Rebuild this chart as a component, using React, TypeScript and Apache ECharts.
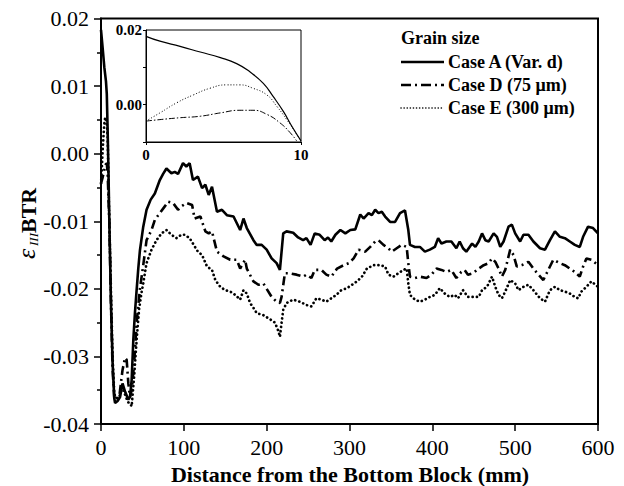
import React, { useEffect, useRef } from "react";
import * as echarts from "echarts";

const FONT = '"Liberation Serif", "Times New Roman", Times, serif';

// Main chart: distance from bottom block (mm) vs strain
const caseA: [number, number][] = [
  [0, 0.0183], [2, 0.0156], [4, 0.0128], [6, 0.0107], [7, 0.0088], [8, 0.0035], [9, -0.0025], [10, -0.0097],
  [12, -0.022], [14, -0.031], [16, -0.0362], [17, -0.0369], [20, -0.0366], [23, -0.036], [26, -0.034],
  [29, -0.0352], [31, -0.0358], [33, -0.0364], [35, -0.036], [37, -0.0335], [39, -0.0276], [41, -0.0235],
  [43, -0.0202], [45, -0.017], [47, -0.0143], [51, -0.0108], [55, -0.0083], [60, -0.0068], [65, -0.0059],
  [71, -0.0039], [75, -0.003], [79, -0.0022], [85, -0.0029], [89, -0.0027], [93, -0.003], [99, -0.0014],
  [103, -0.0019], [107, -0.0014], [111, -0.0039], [117, -0.0034], [122, -0.0051], [126, -0.0046],
  [130, -0.0061], [134, -0.0049], [140, -0.0086], [146, -0.0083], [152, -0.0091], [160, -0.0093],
  [168, -0.0113], [172, -0.0096], [176, -0.011], [184, -0.0128], [188, -0.0135], [194, -0.0135],
  [200, -0.0142], [206, -0.0155], [212, -0.0162], [216, -0.0172], [220, -0.0118], [224, -0.0115],
  [232, -0.0117], [238, -0.0124], [244, -0.0128], [248, -0.0125], [253, -0.0135], [258, -0.0118],
  [264, -0.012], [270, -0.0128], [274, -0.0124], [278, -0.013], [283, -0.012], [289, -0.0113],
  [295, -0.0118], [301, -0.0113], [307, -0.0112], [313, -0.009], [317, -0.0096], [323, -0.0088],
  [327, -0.0091], [331, -0.0083], [335, -0.0088], [339, -0.0086], [343, -0.0093], [349, -0.0101],
  [355, -0.0101], [361, -0.0088], [367, -0.0084], [371, -0.0113], [373, -0.0135], [379, -0.0138],
  [385, -0.0138], [391, -0.0145], [397, -0.0142], [403, -0.0138], [407, -0.0125], [411, -0.0133],
  [417, -0.013], [423, -0.013], [429, -0.014], [433, -0.013], [437, -0.014], [441, -0.0145],
  [448, -0.0133], [452, -0.0138], [456, -0.013], [460, -0.0118], [464, -0.0128], [468, -0.013],
  [474, -0.0118], [478, -0.0123], [482, -0.0138], [486, -0.013], [492, -0.0108], [496, -0.0105],
  [500, -0.0118], [506, -0.013], [510, -0.012], [516, -0.012], [522, -0.013], [530, -0.014],
  [536, -0.0142], [542, -0.0128], [548, -0.0115], [554, -0.0123], [560, -0.0125], [566, -0.013],
  [572, -0.0135], [578, -0.0138], [582, -0.0123], [588, -0.0108], [594, -0.011], [600, -0.0118],
];

const caseD: [number, number][] = [
  [0, -0.0044], [2, -0.0035], [4, -0.0024], [6, -0.0015], [7, -0.0015], [8, -0.0028], [9, -0.0065],
  [10, -0.0097], [12, -0.022], [14, -0.032], [16, -0.036], [18, -0.0365], [22, -0.036], [24, -0.034],
  [26, -0.032], [29, -0.0302], [31, -0.0305], [33, -0.034], [35, -0.036], [37, -0.035], [40, -0.031],
  [43, -0.025], [47, -0.02], [51, -0.0165], [55, -0.0128], [61, -0.0113], [65, -0.0098], [71, -0.0088],
  [77, -0.0078], [81, -0.0071], [87, -0.0073], [93, -0.0083], [97, -0.0078], [103, -0.0073],
  [110, -0.0076], [113, -0.0096], [120, -0.0093], [126, -0.0115], [130, -0.0118], [134, -0.0115],
  [140, -0.0145], [148, -0.0152], [156, -0.0157], [164, -0.0157], [168, -0.017], [174, -0.0157],
  [176, -0.017], [184, -0.0189], [190, -0.0194], [196, -0.0192], [206, -0.0212], [212, -0.0219],
  [216, -0.0221], [218, -0.0212], [222, -0.0177], [228, -0.0177], [236, -0.0179], [244, -0.0182],
  [248, -0.0179], [254, -0.0184], [258, -0.0172], [266, -0.0172], [272, -0.0179], [278, -0.0182],
  [285, -0.017], [293, -0.0165], [299, -0.0162], [305, -0.0155], [311, -0.0142], [319, -0.0145],
  [325, -0.0138], [331, -0.013], [335, -0.0128], [341, -0.0135], [347, -0.014], [351, -0.0145],
  [357, -0.014], [363, -0.0135], [369, -0.0138], [371, -0.0162], [373, -0.0182], [379, -0.0184],
  [385, -0.0182], [393, -0.0184], [399, -0.0179], [405, -0.017], [411, -0.0172], [417, -0.0175],
  [423, -0.0172], [429, -0.0184], [435, -0.0175], [439, -0.0172], [443, -0.0179], [449, -0.0177],
  [456, -0.017], [462, -0.0165], [468, -0.0162], [472, -0.0155], [476, -0.016], [480, -0.017],
  [484, -0.0182], [488, -0.0172], [494, -0.0142], [498, -0.015], [502, -0.0167], [508, -0.0165],
  [516, -0.016], [522, -0.017], [528, -0.0179], [534, -0.0187], [538, -0.0177], [546, -0.0157],
  [554, -0.0162], [560, -0.0165], [566, -0.017], [572, -0.0175], [578, -0.0182], [582, -0.0167],
  [586, -0.0155], [592, -0.0157], [600, -0.0165],
];

const caseE: [number, number][] = [
  [0, -0.0044], [1, -0.0022], [2, 0.0005], [3, 0.0026], [4, 0.0044], [5, 0.0053], [6, 0.0053], [7, 0.0044],
  [8, 0.0026], [8.5, -0.0004], [9, -0.004], [10, -0.0097], [12, -0.02], [14, -0.03], [16, -0.0355],
  [18, -0.0362], [22, -0.036], [26, -0.0345], [30, -0.036], [33, -0.0368], [35, -0.0369], [37, -0.0374],
  [40, -0.033], [43, -0.0276], [46, -0.023], [49, -0.0205], [51, -0.0192], [55, -0.0162], [61, -0.0142],
  [67, -0.0128], [73, -0.0118], [79, -0.0113], [85, -0.012], [91, -0.0125], [97, -0.012], [101, -0.012],
  [107, -0.0125], [111, -0.0133], [117, -0.0145], [122, -0.015], [128, -0.0167], [134, -0.0172],
  [138, -0.0187], [144, -0.0197], [150, -0.0202], [156, -0.0204], [162, -0.0209], [168, -0.0216],
  [172, -0.0202], [176, -0.0207], [180, -0.0221], [184, -0.0228], [188, -0.0236], [196, -0.0239],
  [204, -0.0245], [210, -0.025], [214, -0.0262], [216, -0.0271], [218, -0.025], [220, -0.0231],
  [224, -0.0221], [232, -0.0216], [240, -0.0219], [248, -0.0224], [254, -0.0226], [260, -0.0214],
  [266, -0.0216], [272, -0.0219], [278, -0.0214], [284, -0.0209], [290, -0.0202], [297, -0.0199],
  [303, -0.0194], [309, -0.0189], [315, -0.0182], [321, -0.017], [329, -0.0165], [337, -0.0165],
  [343, -0.0167], [347, -0.0179], [353, -0.0182], [359, -0.0177], [365, -0.0172], [369, -0.017],
  [371, -0.0192], [373, -0.0209], [379, -0.0216], [385, -0.0219], [391, -0.0216], [397, -0.0212],
  [403, -0.0209], [409, -0.0199], [415, -0.0207], [421, -0.0212], [427, -0.0209], [431, -0.0214],
  [437, -0.0202], [443, -0.0212], [449, -0.0212], [456, -0.0212], [460, -0.0202], [466, -0.0197],
  [472, -0.0182], [476, -0.0197], [480, -0.0209], [484, -0.0214], [488, -0.0204], [494, -0.0187],
  [500, -0.0192], [504, -0.0202], [510, -0.0197], [516, -0.0194], [522, -0.0202], [530, -0.0214],
  [536, -0.0219], [542, -0.0202], [548, -0.0197], [554, -0.0202], [560, -0.0204], [566, -0.0207],
  [572, -0.0212], [576, -0.0214], [580, -0.0204], [586, -0.0197], [592, -0.0189], [600, -0.0197],
];

// Inset: first 10 mm
const insetA: [number, number][] = [
  [0, 0.0183], [0.9, 0.017], [2.2, 0.0156], [3.5, 0.0141], [4.8, 0.0126], [5.85, 0.011], [6.7, 0.0088],
  [7.57, 0.0057], [8.2, 0.0022], [8.86, -0.0018], [9.4, -0.0057], [10, -0.0097],
];
const insetD: [number, number][] = [
  [0, -0.0044], [0.9, -0.004], [2.2, -0.0035], [3.5, -0.0031], [4.8, -0.0022], [6.06, -0.0015],
  [6.9, -0.0015], [7.8, -0.0026], [8.65, -0.0049], [9.3, -0.0075], [9.72, -0.0097],
];
const insetE: [number, number][] = [
  [0, -0.0044], [0.9, -0.0022], [1.98, 0.0005], [3.05, 0.0026], [4.13, 0.0044], [5.2, 0.0053],
  [6.06, 0.0053], [6.9, 0.0044], [7.8, 0.0026], [8.43, -0.0004], [9.08, -0.004], [9.72, -0.0079],
  [10, -0.0097],
];

const seriesNames = ["Case A (Var. d)", "Case D (75 μm)", "Case E (300 μm)"];
const legendTitle = "Grain size";
const xTitle = "Distance from the Bottom Block (mm)";

export default function App() {
  const ref = useRef<HTMLDivElement>(null);
  useEffect(() => {
    document.body.style.margin = "0";
    const chart = echarts.init(ref.current!, null, { renderer: "svg" });
    const fmt2 = (v: number) => (Math.abs(v) < 1e-9 ? "0.00" : v.toFixed(2));
    const solid = { color: "#000", width: 2.6, type: "solid" as const };
    const dashDot = { color: "#000", width: 2.6, type: [9, 4, 2, 4] };
    const dotted = { color: "#000", width: 2.7, type: [0.1, 4.2], cap: "round" as const };

    // legend drawn by hand: sample line + label per series
    const legendStyles = [
      { lineWidth: 2.6, lineDash: null as number[] | null, lineCap: "butt" },
      { lineWidth: 2.6, lineDash: [10, 4, 2, 4], lineCap: "butt" },
      { lineWidth: 1.6, lineDash: [0.1, 3], lineCap: "round" },
    ];
    const legendRows = [62, 85, 108];
    const legendGraphics: any[] = [];
    seriesNames.forEach((name, i) => {
      legendGraphics.push({
        type: "line",
        shape: { x1: 401, y1: legendRows[i], x2: 444, y2: legendRows[i] },
        style: { stroke: "#000", lineWidth: legendStyles[i].lineWidth, lineDash: legendStyles[i].lineDash, lineCap: legendStyles[i].lineCap },
      });
      legendGraphics.push({
        type: "text", x: 448, y: legendRows[i],
        style: { text: name, font: `bold 18px ${FONT}`, fill: "#000", align: "left", verticalAlign: "middle", textAlign: "left", textVerticalAlign: "middle" },
      });
    });

    chart.setOption({
      animation: false,
      backgroundColor: "#fff",
      textStyle: { fontFamily: FONT },
      grid: [
        { left: 101, top: 18.5, width: 497, height: 405.5, show: true, borderColor: "#000", borderWidth: 2, containLabel: false },
        { left: 146, top: 30, width: 155, height: 112, show: true, borderColor: "#000", borderWidth: 1, backgroundColor: "#fff", containLabel: false },
      ],
      xAxis: [
        {
          gridIndex: 0, type: "value", min: 0, max: 600, interval: 100,
          axisLine: { onZero: false, lineStyle: { color: "#000", width: 2 } },
          axisTick: { show: true, inside: false, length: 7, lineStyle: { color: "#000", width: 1.5 } },
          axisLabel: { margin: 12, fontFamily: FONT, fontSize: 22, color: "#000" },
          splitLine: { show: false },
        },
        {
          gridIndex: 1, type: "value", min: 0, max: 10, interval: 10,
          axisLine: { onZero: false, lineStyle: { color: "#000", width: 1 } },
          axisTick: { show: true, inside: false, length: 3, lineStyle: { color: "#000", width: 1 } },
          axisLabel: { margin: 5, fontFamily: FONT, fontWeight: "bold", fontSize: 15, color: "#000" },
          splitLine: { show: false },
        },
      ],
      yAxis: [
        {
          gridIndex: 0, type: "value", min: -0.04, max: 0.02, interval: 0.01,
          axisLine: { show: true, onZero: false, lineStyle: { color: "#000", width: 2 } },
          axisTick: { show: true, inside: false, length: 7, lineStyle: { color: "#000", width: 1.5 } },
          minorTick: { show: true, splitNumber: 2, length: 4, lineStyle: { color: "#000", width: 1.5 } },
          axisLabel: { margin: 12, fontFamily: FONT, fontSize: 22, color: "#000", formatter: fmt2 },
          splitLine: { show: false },
        },
        {
          gridIndex: 1, type: "value", min: -0.01, max: 0.02, interval: 0.01,
          axisLine: { show: true, onZero: false, lineStyle: { color: "#000", width: 1 } },
          axisTick: { show: true, inside: false, length: 3, lineStyle: { color: "#000", width: 1 } },
          axisLabel: {
            margin: 4, fontFamily: FONT, fontWeight: "bold", fontSize: 15, color: "#000",
            formatter: (v: number) => (Math.abs(v) < 1e-9 || Math.abs(v - 0.02) < 1e-9 ? fmt2(v) : ""),
          },
          splitLine: { show: false },
        },
      ],
      series: [
        { type: "line", name: seriesNames[0], xAxisIndex: 0, yAxisIndex: 0, data: caseA, symbol: "none", showSymbol: false, lineStyle: solid },
        { type: "line", name: seriesNames[1], xAxisIndex: 0, yAxisIndex: 0, data: caseD, symbol: "none", showSymbol: false, lineStyle: dashDot },
        { type: "line", name: seriesNames[2], xAxisIndex: 0, yAxisIndex: 0, data: caseE, symbol: "none", showSymbol: false, lineStyle: dotted },
        { type: "line", name: "insetA", xAxisIndex: 1, yAxisIndex: 1, data: insetA, symbol: "none", smooth: true, lineStyle: { color: "#000", width: 1.2 } },
        { type: "line", name: "insetD", xAxisIndex: 1, yAxisIndex: 1, data: insetD, symbol: "none", smooth: true, lineStyle: { color: "#000", width: 1, type: [6, 2, 1.5, 2] } },
        { type: "line", name: "insetE", xAxisIndex: 1, yAxisIndex: 1, data: insetE, symbol: "none", smooth: true, lineStyle: { color: "#000", width: 1, type: [1, 2] } },
      ],
      graphic: [
        {
          type: "text", x: 401, y: 38,
          style: { text: legendTitle, font: `bold 18px ${FONT}`, fill: "#000", align: "left", verticalAlign: "middle", textAlign: "left", textVerticalAlign: "middle" },
        },
        ...legendGraphics,
        {
          type: "text", x: 350, y: 474,
          style: { text: xTitle, font: `bold 22px ${FONT}`, fill: "#000", align: "center", verticalAlign: "middle", textAlign: "center", textVerticalAlign: "middle" },
        },
        {
          type: "group", x: 34, y: 259, rotation: Math.PI / 2,
          children: [
            { type: "text", x: 0, y: 5.5, style: { text: "ε", font: `italic 26px ${FONT}`, fill: "#000", align: "left", verticalAlign: "bottom", textAlign: "left", textVerticalAlign: "bottom" } },
            { type: "text", x: 13, y: 6, style: { text: "III", font: `italic 13px ${FONT}`, fill: "#000", align: "left", verticalAlign: "bottom", textAlign: "left", textVerticalAlign: "bottom" } },
            { type: "text", x: 26, y: 5, style: { text: "BTR", font: `bold 22px ${FONT}`, fill: "#000", align: "left", verticalAlign: "bottom", textAlign: "left", textVerticalAlign: "bottom" } },
          ],
        },
      ],
    });
    return () => chart.dispose();
  }, []);
  return <div ref={ref} style={{ width: 624, height: 486 }} />;
}
